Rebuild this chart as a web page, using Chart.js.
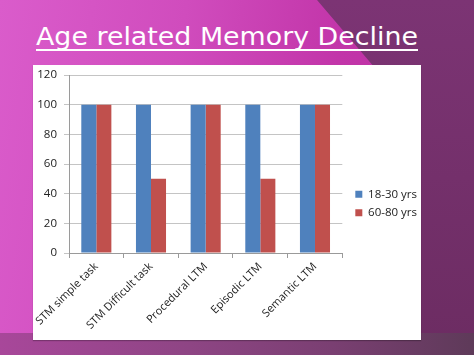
<!DOCTYPE html>
<html><head><meta charset="utf-8">
<script src="https://cdn.jsdelivr.net/npm/chart.js@4/dist/chart.umd.min.js"></script>
<style>
html,body{margin:0;padding:0;width:474px;height:355px;overflow:hidden;background:#c83db0}
.layer{position:absolute;left:0;top:0;width:474px;height:355px}
#bg{background:linear-gradient(100deg,#da5ccb 0%,#d04cbd 35%,#c235a9 65%,#b82d9f 100%)}
#dark{background:linear-gradient(180deg,#7c3474 0%,#6c2c62 100%);clip-path:polygon(317px 0,474px 0,474px 355px,421px 355px,421px 122px)}
#bottom{background:linear-gradient(90deg,#a8479a 0%,#8e4584 40%,#7a3f72 70%,#5e3a59 100%);clip-path:polygon(0 333px,474px 333px,474px 355px,0 355px)}
#title{position:absolute;left:0;top:0}
#box{position:absolute;left:33px;top:65px;width:388px;height:275px;background:#fff;box-shadow:0 1px 1px rgba(0,0,0,0.25)}
#c{position:absolute;left:0;top:0}
</style></head>
<body>
<div id="bg" class="layer"></div>
<div id="dark" class="layer"></div>
<div id="bottom" class="layer"></div>
<svg id="title" width="474" height="60">
  <text x="36" y="45" fill="#fff" font-family="DejaVu Sans" font-size="25" textLength="382" lengthAdjust="spacingAndGlyphs">Age related Memory Decline</text>
  <rect x="36" y="49" width="382" height="2" fill="#fff"/>
</svg>
<div id="box"><canvas id="c" width="388" height="275"></canvas></div>
<script>
const categories = ["STM simple task","STM Difficult task","Procedural LTM","Episodic LTM","Semantic LTM"];
const seriesNames = ["18-30 yrs","60-80 yrs"];
const young = [100,100,100,100,100];
const old = [100,50,100,50,100];
const yTicks = [0,20,40,60,80,100,120];

const font = {family:"'Open Sans', sans-serif", size:11.5};
const xFont = {family:"'Open Sans', sans-serif", size:11};
const legendShift = {
  id:'legendShift',
  afterLayout(chart){ const l = chart.legend; if (l){ l.left += 6; l.right += 6; l.top -= 4; l.bottom -= 4; } }
};
new Chart(document.getElementById('c'), {
  type:'bar',
  data:{
    labels:categories,
    datasets:[
      {label:seriesNames[0], data:young, backgroundColor:'#4f81bd', categoryPercentage:0.55, barPercentage:1},
      {label:seriesNames[1], data:old, backgroundColor:'#c0504d', categoryPercentage:0.55, barPercentage:1}
    ]
  },
  plugins:[legendShift],
  options:{
    responsive:false, animation:false, devicePixelRatio:1,
    layout:{padding:{left:0,top:10,right:0,bottom:0}},
    plugins:{
      legend:{position:'right',labels:{boxWidth:7,boxHeight:7,padding:7,font:font,color:'#222'}},
      tooltip:{enabled:false}
    },
    scales:{
      x:{
        afterFit:(s)=>{ s.paddingLeft = 0; s.paddingRight = 0; s.height = 87; },
        grid:{display:true,drawOnChartArea:false,offset:true,tickLength:5,color:'#9a9a9a'},
        border:{color:'#9a9a9a'},
        ticks:{minRotation:45,maxRotation:45,font:xFont,color:'#222',padding:2}
      },
      y:{
        min:yTicks[0], max:yTicks[yTicks.length-1],
        afterBuildTicks:(s)=>{s.ticks = yTicks.map(v=>({value:v}));},
        afterFit:(s)=>{ s.width = 36; s.paddingTop = 0; s.paddingBottom = 0; },
        grid:{color:'#c4c4c4',tickLength:5},
        border:{color:'#9a9a9a'},
        ticks:{font:font,color:'#222',padding:7}
      }
    }
  }
});
</script>
</body></html>
